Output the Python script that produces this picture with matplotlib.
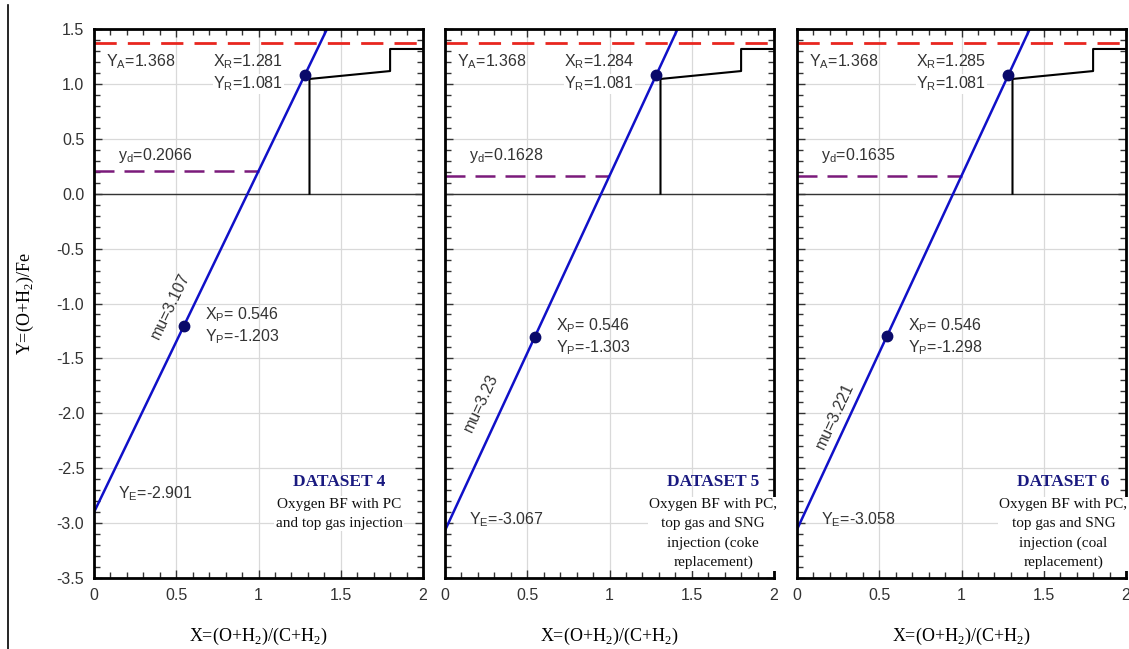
import matplotlib.pyplot as plt
import numpy as np
from matplotlib.lines import Line2D
from matplotlib.ticker import MultipleLocator

plt.rcParams['font.family'] = ['Liberation Sans', 'DejaVu Sans']

# data for the three rist diagrams
datasets = ["DATASET 4", "DATASET 5", "DATASET 6"]
descriptions = [
    "Oxygen BF with PC\nand top gas injection",
    "Oxygen BF with PC,\ntop gas and SNG\ninjection (coke\nreplacement)",
    "Oxygen BF with PC,\ntop gas and SNG\ninjection (coal\nreplacement)",
]
mu = [3.107, 3.23, 3.221]
mu_txt = ["3.107", "3.23", "3.221"]
y_e = [-2.901, -3.067, -3.058]
y_a = [1.368, 1.368, 1.368]
y_d = [0.2066, 0.1628, 0.1635]
y_d_txt = ["0.2066", "0.1628", "0.1635"]
x_r = [1.281, 1.284, 1.285]
y_r = [1.081, 1.081, 1.081]
x_p = [0.546, 0.546, 0.546]
y_p = [-1.203, -1.303, -1.298]
# wustite / iron stair line (same in each panel)
stair_x = [1.31, 1.31, 1.8, 1.8, 2.0]
stair_y = [0.0, 1.045, 1.117, 1.318, 1.318]

# label placement (data coords)
mu_pos = [(0.463, -1.02), (0.22, -1.9), (0.23, -2.02)]
ye_pos = [-2.73, -2.97, -2.97]
ds_x = [1.49, 1.63, 1.62]

fig = plt.figure(figsize=(11.29, 6.49), dpi=100)
lefts = [94, 445, 797]
W, H = 1129, 649
axes = []
for i in range(3):
    ax = fig.add_axes([lefts[i] / W, 1 - 578 / H, 329 / W, 549 / H])
    axes.append(ax)

# page border line on the left
fig.add_artist(Line2D([8 / W, 8 / W], [0, 1 - 5 / H], color="black", lw=1.2))

serif = ['Liberation Serif', 'DejaVu Serif']

for i, ax in enumerate(axes):
    ax.set_xlim(0, 2)
    ax.set_ylim(-3.5, 1.5)
    ax.xaxis.set_major_locator(MultipleLocator(0.5))
    ax.xaxis.set_minor_locator(MultipleLocator(0.1))
    ax.yaxis.set_major_locator(MultipleLocator(0.5))
    ax.yaxis.set_minor_locator(MultipleLocator(0.1))
    ax.grid(True, which="major", color="#d9d9d9", lw=0.9)
    ax.set_axisbelow(True)
    ax.tick_params(which="both", direction="in", top=True, right=True, labelsize=11.5, colors="#333333",
                   pad=7)
    ax.tick_params(which="major", length=6, width=1)
    ax.tick_params(which="minor", length=4, width=1)
    ax.set_xticks([0, 0.5, 1, 1.5, 2])
    ax.set_xticklabels(["0", "0.5", "1", "1.5", "2"])
    for s in ax.spines.values():
        s.set_linewidth(2)
    if i == 0:
        ax.set_yticks(np.arange(-3.5, 1.51, 0.5))
        ax.set_yticklabels([f"{v:.1f}" for v in np.arange(-3.5, 1.51, 0.5)])
        ax.set_ylabel("Y=(O+H$_\\mathregular{2}$)/Fe", family=serif, fontsize=13, labelpad=15)
    else:
        ax.tick_params(axis="y", labelleft=False)
    ax.set_xlabel("X=(O+H$_\\mathregular{2}$)/(C+H$_\\mathregular{2}$)", family=serif, fontsize=13,
                  labelpad=17)

    ax.axhline(0, color="#333333", lw=1)
    ax.plot(stair_x, stair_y, color="black", lw=1.5)
    ax.axhline(y_a[i], color="#e8261f", lw=2, dashes=(8, 4))
    xd = (y_d[i] - y_e[i]) / mu[i]
    ax.plot([0, xd], [y_d[i], y_d[i]], color="#7b1a7b", lw=1.8, dashes=(8, 4))
    x_top = (1.5 - y_e[i]) / mu[i]
    ax.plot([0, x_top], [y_e[i], 1.5], color="#1010c8", lw=1.8, clip_on=True)
    ax.plot([x_r[i], x_p[i]], [y_r[i], y_p[i]], "o", color="#0a0a6a", ms=7.5, zorder=5)

    fs = 11.5
    ax.text(0.075, 1.2, "Y$_\\mathregular{A}$=%.3f" % y_a[i], fontsize=fs, color="#333333", va="center")
    ax.text(1.15, 1.2, "X$_\\mathregular{R}$=%.3f" % x_r[i], fontsize=fs, color="#333333", va="center",
            ha="right")
    ax.text(1.15, 1.0, "Y$_\\mathregular{R}$=%.3f" % y_r[i], fontsize=fs, color="#333333", va="center",
            ha="right", bbox=dict(fc="white", ec="none", pad=0.5))
    ax.text(0.145, 0.35, "y$_\\mathregular{d}$=" + y_d_txt[i], fontsize=fs, color="#333333", va="center")
    ax.text(x_p[i] + 0.13, y_p[i] + 0.1, "X$_\\mathregular{P}$= %.3f" % x_p[i], fontsize=fs, color="#333333",
            va="center")
    ax.text(x_p[i] + 0.13, y_p[i] - 0.1, "Y$_\\mathregular{P}$=%.3f" % y_p[i], fontsize=fs, color="#333333",
            va="center")
    ax.text(0.145, ye_pos[i], "Y$_\\mathregular{E}$=%.3f" % y_e[i], fontsize=fs, color="#333333", va="center")

    # rotate mu label along the line
    p0 = ax.transData.transform((0, 0))
    p1 = ax.transData.transform((1, mu[i]))
    ang = np.degrees(np.arctan2(p1[1] - p0[1], p1[0] - p0[0]))
    ax.text(mu_pos[i][0], mu_pos[i][1], "mu=" + mu_txt[i], fontsize=fs, color="#333333", rotation=ang,
            ha="center", va="center", rotation_mode="anchor")

    ax.text(ds_x[i], -2.63, datasets[i], family=serif, fontsize=12.5, fontweight="bold", color="#1a1a80",
            ha="center", va="center")
    ax.text(ds_x[i], -2.77, descriptions[i], family=serif, fontsize=11, color="#111111", ha="center",
            va="top", linespacing=1.6, bbox=dict(fc="white", ec="none", pad=1))

fig.savefig("out.png", dpi=100)
